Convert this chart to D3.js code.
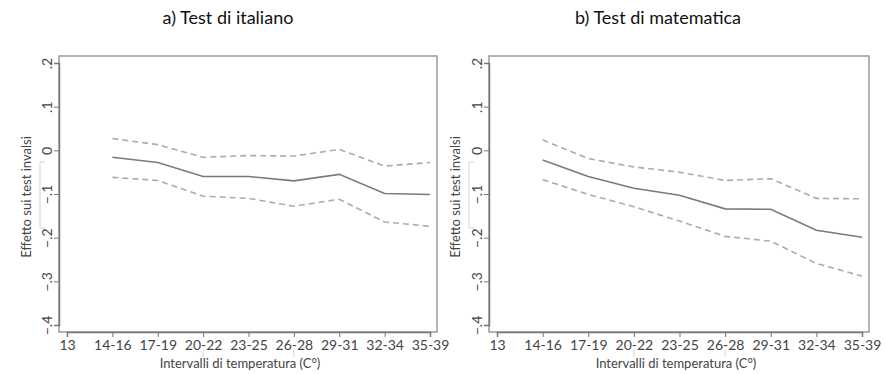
<!DOCTYPE html>
<html>
<head>
<meta charset="utf-8">
<script src="https://cdn.jsdelivr.net/npm/d3@7"></script>
<style>
  body { margin: 0; background: #fff; }
  text { font-family: Lato, "Open Sans", "DejaVu Sans", sans-serif; }
</style>
</head>
<body>
<div class="canva"></div>
<script>
// categories on the x axis (first one has no estimate)
const categories = ["13", "14-16", "17-19", "20-22", "23-25", "26-28", "29-31", "32-34", "35-39"];
const seriesCats = categories.slice(1);
const yTicks = [-0.4, -0.3, -0.2, -0.1, 0, 0.1, 0.2];

// a) italiano
const itaEst   = [-0.016, -0.028, -0.060, -0.060, -0.070, -0.055, -0.099, -0.101];
const itaUpper = [ 0.027,  0.013, -0.016, -0.012, -0.013,  0.002, -0.036, -0.028];
const itaLower = [-0.062, -0.069, -0.105, -0.110, -0.128, -0.112, -0.164, -0.174];

// b) matematica
const matEst   = [-0.022, -0.060, -0.087, -0.103, -0.134, -0.135, -0.183, -0.199];
const matUpper = [ 0.024, -0.019, -0.038, -0.050, -0.069, -0.065, -0.110, -0.111];
const matLower = [-0.067, -0.101, -0.129, -0.162, -0.197, -0.208, -0.259, -0.288];

const svg = d3.select(".canva").append("svg")
    .attr("width", 885)
    .attr("height", 374);

const fmt = d => d === 0 ? "0" : d3.format(".1f")(d).replace("0.", ".");

function panel(opt) {
    const g = svg.append("g");

    const x = d3.scalePoint()
        .domain(categories)
        .range([opt.x0, opt.x1]);

    const y = d3.scaleLinear()
        .domain([-0.4, 0.2])
        .range([325, 63]);

    // frame
    g.append("rect")
        .attr("x", opt.left).attr("y", 56)
        .attr("width", opt.right - opt.left).attr("height", 332 - 56)
        .attr("fill", "none")
        .attr("stroke", "#9a9a9a")
        .attr("stroke-width", 1.5);

    const yAxis = g.append("g")
        .attr("transform", `translate(${opt.left},0)`)
        .call(d3.axisLeft(y).tickValues(yTicks).tickFormat(fmt).tickSize(5));
    yAxis.select(".domain").attr("stroke", "#777").attr("stroke-width", 1.5);
    yAxis.selectAll(".tick line").attr("stroke", "#777");
    yAxis.selectAll(".tick text")
        .attr("fill", "#444")
        .attr("font-size", 14)
        .attr("text-anchor", "middle")
        .attr("dy", null)
        .attr("x", 0)
        .attr("transform", "translate(-13,0) rotate(-90)")
        .attr("dominant-baseline", "central");

    const xAxis = g.append("g")
        .attr("transform", "translate(0,332)")
        .call(d3.axisBottom(x).tickSize(5).tickPadding(3));
    xAxis.select(".domain").attr("stroke", "#777").attr("stroke-width", 1.5);
    xAxis.selectAll(".tick line").attr("stroke", "#777");
    xAxis.selectAll(".tick text")
        .attr("fill", "#444")
        .attr("font-size", 14);

    const line = d3.line()
        .x((d, i) => x(seriesCats[i]))
        .y(d => y(d));

    g.append("path").datum(opt.upper)
        .attr("d", line).attr("fill", "none")
        .attr("stroke", "#ababab").attr("stroke-width", 1.6)
        .attr("stroke-dasharray", "6,4");
    g.append("path").datum(opt.lower)
        .attr("d", line).attr("fill", "none")
        .attr("stroke", "#ababab").attr("stroke-width", 1.6)
        .attr("stroke-dasharray", "6,4");
    g.append("path").datum(opt.est)
        .attr("d", line).attr("fill", "none")
        .attr("stroke", "#7a7a7a").attr("stroke-width", 1.6);

    // faint leader marks around axis titles
    g.append("path")
        .attr("d", `M${opt.yTitleX + 19},162 H${opt.yTitleX + 14} V228 H${opt.yTitleX + 19}`)
        .attr("fill", "none").attr("stroke", "#d4d4d4");
    g.append("path")
        .attr("d", `M${x("20-22")},350 V357 M${x("26-28")},350 V357`)
        .attr("fill", "none").attr("stroke", "#d4d4d4");

    g.append("text")
        .attr("transform", `translate(${opt.yTitleX},197) rotate(-90)`)
        .attr("text-anchor", "middle")
        .attr("dominant-baseline", "central")
        .attr("font-size", 13)
        .attr("fill", "#444")
        .text("Effetto sui test invalsi");

    g.append("text")
        .attr("x", opt.xTitleX).attr("y", 368)
        .attr("text-anchor", "middle")
        .attr("font-size", 13)
        .attr("fill", "#444")
        .text("Intervalli di temperatura (C°)");

    g.append("text")
        .attr("x", opt.titleX).attr("y", 24)
        .attr("text-anchor", "middle")
        .attr("font-size", 18)
        .attr("fill", "#111")
        .text(opt.title);
}

panel({ left: 59, right: 437, x0: 67, x1: 430, yTitleX: 26, xTitleX: 240, titleX: 228,
        title: "a) Test di italiano", est: itaEst, upper: itaUpper, lower: itaLower });
panel({ left: 489, right: 869, x0: 497, x1: 862, yTitleX: 455, xTitleX: 676, titleX: 658,
        title: "b) Test di matematica", est: matEst, upper: matUpper, lower: matLower });
</script>
</body>
</html>
